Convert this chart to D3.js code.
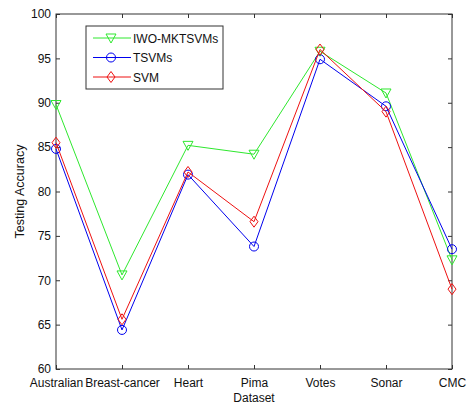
<!DOCTYPE html>
<html><head><meta charset="utf-8">
<script src="https://cdn.jsdelivr.net/npm/d3@7"></script>
<style>body{margin:0;background:#fff}svg text{font-family:"Liberation Sans",Arial,sans-serif}</style>
</head><body><svg id="c" width="470" height="405"></svg>
<script>
const categories = ["Australian","Breast-cancer","Heart","Pima","Votes","Sonar","CMC"];
const iwo = [89.8, 70.6, 85.2, 84.2, 95.8, 91.1, 72.3];
const tsvm = [84.8, 64.4, 81.9, 73.8, 94.9, 89.6, 73.5];
const svm = [85.5, 65.6, 82.2, 76.6, 96.0, 89.0, 69.0];
const yTicks = [60,65,70,75,80,85,90,95,100];
const seriesNames = ["IWO-MKTSVMs","TSVMs","SVM"];

const svg = d3.select("#c");
const L=56,R=452,T=14,B=369;
const x = d3.scalePoint().domain(categories).range([L,R]);
const y = d3.scaleLinear().domain([60,100]).range([B,T]);
const axisCol="#333";

svg.append("rect").attr("x",L).attr("y",T).attr("width",R-L).attr("height",B-T)
  .attr("fill","none").attr("stroke",axisCol).attr("stroke-width",1);

const gx = svg.append("g").attr("transform",`translate(0,${B})`)
  .call(d3.axisBottom(x).tickSizeInner(-4).tickSizeOuter(0).tickPadding(9));
const gxt = svg.append("g").attr("transform",`translate(0,${T})`)
  .call(d3.axisTop(x).tickSizeInner(-4).tickSizeOuter(0).tickFormat(""));
const gy = svg.append("g").attr("transform",`translate(${L},0)`)
  .call(d3.axisLeft(y).tickValues(yTicks).tickSizeInner(-4).tickSizeOuter(0).tickPadding(5));
const gyr = svg.append("g").attr("transform",`translate(${R},0)`)
  .call(d3.axisRight(y).tickValues(yTicks).tickSizeInner(-4).tickSizeOuter(0).tickFormat(""));
[gx,gxt,gy,gyr].forEach(g=>{g.select(".domain").remove();
  g.selectAll("line").attr("stroke",axisCol);
  g.selectAll("text").attr("fill","#111").attr("font-family","Liberation Sans, Arial, sans-serif");});
gx.selectAll("text").attr("font-size","12px");
gy.selectAll("text").attr("font-size","12px");

svg.append("text").attr("x",x("Pima")).attr("y",402).attr("text-anchor","middle")
  .attr("font-size","12px").attr("fill","#111").text("Dataset");
svg.append("text").attr("transform",`translate(24,${(T+B)/2}) rotate(-90)`).attr("text-anchor","middle")
  .attr("font-size","12.5px").attr("fill","#111").text("Testing Accuracy");

const colors=["#2ee82e","#0000ee","#ee1111"];
const data=[iwo,tsvm,svm];
const line=d3.line().x((d,i)=>x(categories[i])).y(d=>y(d));
function marker(g,k,cx,cy){
  if(k===0){ g.append("path").attr("d",`M${cx-5},${cy-4}L${cx+5},${cy-4}L${cx},${cy+5}Z`); }
  else if(k===1){ g.append("circle").attr("cx",cx).attr("cy",cy).attr("r",4.5); }
  else { g.append("path").attr("d",`M${cx},${cy-5.5}L${cx+4},${cy}L${cx},${cy+5.5}L${cx-4},${cy}Z`); }
}
data.forEach((vals,k)=>{
  const g=svg.append("g").attr("fill","none").attr("stroke",colors[k]).attr("stroke-width",1);
  g.append("path").attr("d",line(vals));
  vals.forEach((v,i)=>marker(g,k,x(categories[i]),y(v)));
});

const lg=svg.append("g");
lg.append("rect").attr("x",86).attr("y",26).attr("width",137).attr("height",63)
  .attr("fill","#fff").attr("stroke",axisCol);
seriesNames.forEach((n,k)=>{
  const yy=38+k*19.5;
  const g=lg.append("g").attr("fill","none").attr("stroke",colors[k]);
  g.append("line").attr("x1",93).attr("x2",131).attr("y1",yy).attr("y2",yy);
  marker(g,k,111,yy);
  lg.append("text").attr("x",133).attr("y",yy+4.5).attr("font-size","12px").attr("fill","#111").text(n);
});
</script></body></html>
